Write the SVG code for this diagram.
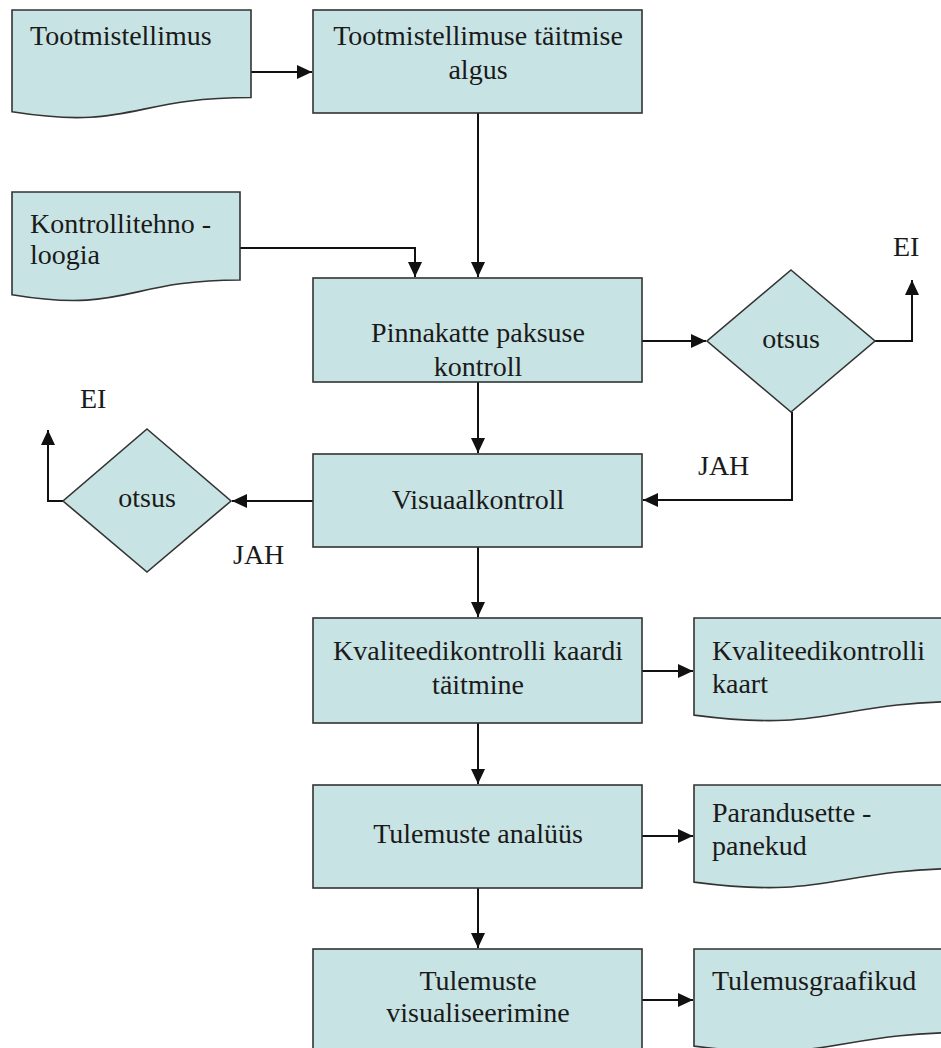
<svg xmlns="http://www.w3.org/2000/svg" width="941" height="1048" viewBox="0 0 941 1048">
<style>
.box{fill:#c8e3e3;stroke:#333;stroke-width:1.6}
.t{font-family:"Liberation Serif","Times New Roman","DejaVu Serif",serif;font-size:28px;fill:#1a1a1a}
.c{text-anchor:middle}
.ln{fill:none;stroke:#111;stroke-width:2;marker-end:url(#ah)}
</style>
<defs>
<marker id="ah" markerUnits="userSpaceOnUse" markerWidth="16" markerHeight="14" refX="15" refY="7" orient="auto">
<path d="M0,0 L15,7 L0,14 z" fill="#111"/>
</marker>
</defs>
<rect width="941" height="1048" fill="#fff"/>
<g id="connectors">
<path class="ln" d="M251,72 H312"/>
<path class="ln" d="M478,113 V277"/>
<path class="ln" d="M240,248 H415 V277"/>
<path class="ln" d="M642,341 H706"/>
<path class="ln" d="M875,341 H912 V280"/>
<path class="ln" d="M792,412 V500 H643"/>
<path class="ln" d="M313,501 H232"/>
<path class="ln" d="M63,501 H48 V430"/>
<path class="ln" d="M478,382 V453"/>
<path class="ln" d="M478,547 V617"/>
<path class="ln" d="M642,671 H693"/>
<path class="ln" d="M478,723 V784"/>
<path class="ln" d="M642,836 H693"/>
<path class="ln" d="M478,888 V948"/>
<path class="ln" d="M642,1000 H693"/>
</g>
<g id="doc-tootmistellimus">
<path class="box" d="M12,10 H251 V97.5 C131.5,97.5 131.5,130.7 12,111.8 Z"/>
<text class="t" x="30" y="45">Tootmistellimus</text>
</g>
<g id="box-algus">
<rect class="box" x="313" y="10" width="329" height="103"/>
<text class="t c" x="478" y="45">Tootmistellimuse täitmise</text>
<text class="t c" x="478" y="79">algus</text>
</g>
<g id="doc-kontrollitehnoloogia">
<path class="box" d="M12,192 H240 V280 C126,280 126,313.7 12,294.7 Z"/>
<text class="t" x="30" y="233">Kontrollitehno -</text>
<text class="t" x="30" y="264">loogia</text>
</g>
<g id="box-pinnakatte">
<rect class="box" x="313" y="278" width="329" height="104"/>
<text class="t c" x="478" y="342">Pinnakatte paksuse</text>
<text class="t c" x="478" y="376">kontroll</text>
</g>
<g id="decision-1">
<path class="box" d="M791,270 L875,341 L791,412 L707,341 Z"/>
<text class="t c" x="791" y="348">otsus</text>
</g>
<text class="t" x="893" y="256">EI</text>
<text class="t" x="698" y="475">JAH</text>
<g id="box-visuaal">
<rect class="box" x="313" y="454" width="329" height="93"/>
<text class="t c" x="478" y="509">Visuaalkontroll</text>
</g>
<g id="decision-2">
<path class="box" d="M147,429 L231,501 L147,572 L63,501 Z"/>
<text class="t c" x="147" y="507">otsus</text>
</g>
<text class="t" x="80" y="408">EI</text>
<text class="t" x="233" y="564">JAH</text>
<g id="box-kaardi">
<rect class="box" x="313" y="618" width="329" height="105"/>
<text class="t c" x="478" y="660">Kvaliteedikontrolli kaardi</text>
<text class="t c" x="478" y="694">täitmine</text>
</g>
<g id="doc-kaart">
<path class="box" d="M694,618 H970 V701.4 C832,701.4 832,733.1 694,715.1 Z"/>
<text class="t" x="712" y="660">Kvaliteedikontrolli</text>
<text class="t" x="712" y="693">kaart</text>
</g>
<g id="box-analyys">
<rect class="box" x="313" y="785" width="329" height="103"/>
<text class="t c" x="478" y="843">Tulemuste analüüs</text>
</g>
<g id="doc-parandus">
<path class="box" d="M694,785 H970 V868.4 C832,868.4 832,900.1 694,882.1 Z"/>
<text class="t" x="712" y="822">Parandusette -</text>
<text class="t" x="712" y="855">panekud</text>
</g>
<g id="box-visualiseerimine">
<rect class="box" x="313" y="949" width="329" height="120"/>
<text class="t c" x="478" y="990">Tulemuste</text>
<text class="t c" x="478" y="1022">visualiseerimine</text>
</g>
<g id="doc-graafikud">
<path class="box" d="M694,949 H970 V1032.4 C832,1032.4 832,1064.1 694,1046.1 Z"/>
<text class="t" x="712" y="990">Tulemusgraafikud</text>
</g>
</svg>
